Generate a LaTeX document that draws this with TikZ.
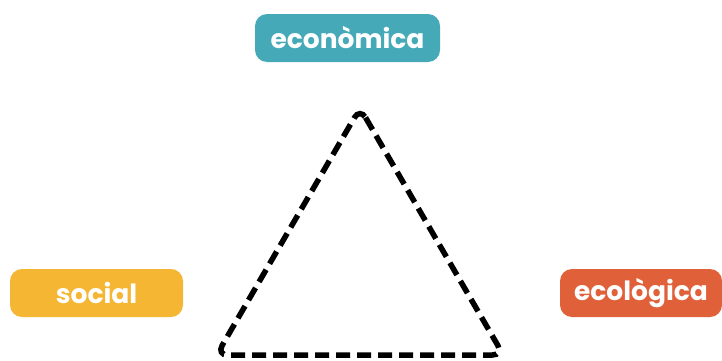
\documentclass[tikz,border=0pt]{standalone}
\usepackage{fontspec}
\setmainfont{Poppins}
\definecolor{econ}{HTML}{45A9B8}
\definecolor{soc}{HTML}{F5B733}
\definecolor{eco}{HTML}{E0603A}
\begin{document}
\begin{tikzpicture}[x=1pt,y=1pt,
  tag/.style={rounded corners=12pt, minimum height=48pt, text=white, font=\fontsize{26.5}{26.5}\selectfont\bfseries, inner sep=0pt},
  tri/.style={line width=5.5pt, dash pattern=on 14pt off 7pt, rounded corners=11pt}]
\useasboundingbox (0,0) rectangle (722,360);
\node[tag, fill=econ, minimum width=185pt] (econ) at (347.5,322) {econòmica};
\node[tag, fill=soc, minimum width=173pt] (soc) at (96.5,67) {social};
\node[tag, fill=eco, minimum width=162pt] (eco) at (641,67) {ecològica};
\coordinate (a) at (360,252);
\coordinate (b) at (216.6,5);
\coordinate (c) at (503.4,5);
\draw[tri] (a) -- (c) -- (b) -- cycle;
\end{tikzpicture}
\end{document}
